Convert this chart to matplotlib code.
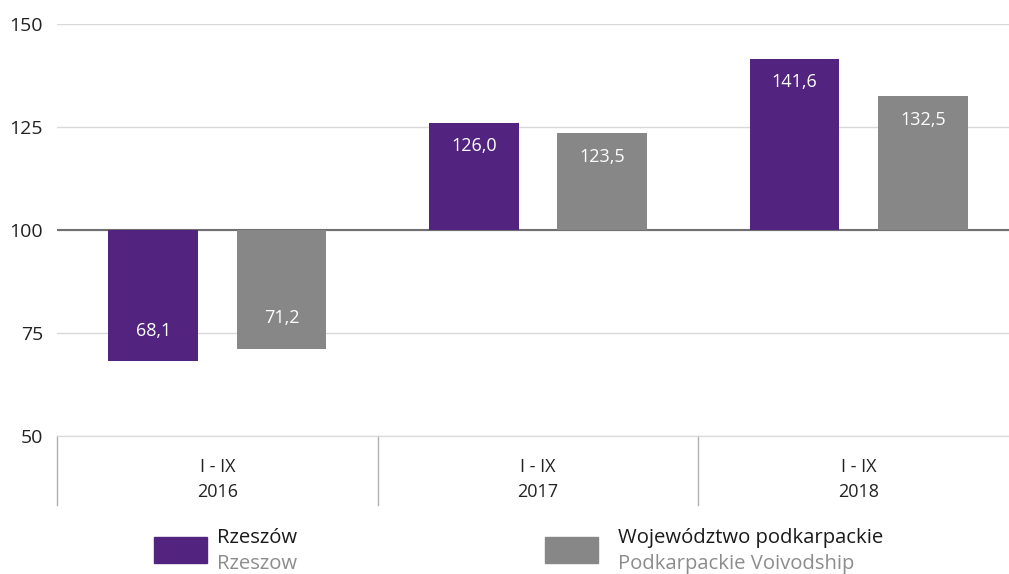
import matplotlib
matplotlib.use("Agg")
import matplotlib.pyplot as plt
from matplotlib.patches import Rectangle
import numpy as np

plt.rcParams['font.family'] = ['Open Sans', 'DejaVu Sans']

# data
periods = ['I - IX\n2016', 'I - IX\n2017', 'I - IX\n2018']
rzeszow = [68.1, 126.0, 141.6]
podkarpackie = [71.2, 123.5, 132.5]
series_pl = ['Rzeszów', 'Województwo podkarpackie']
series_en = ['Rzeszow', 'Podkarpackie Voivodship']
base = 100

purple = '#52247f'
grey = '#878787'
W, H = 1009, 574

fig = plt.figure(figsize=(W / 100, H / 100), dpi=100)
# axes runs slightly past the right edge of the figure
left, right, top, bottom = 57, 1019, 24, 436
ax = fig.add_axes([left / W, 1 - bottom / H, (right - left) / W, (bottom - top) / H])

x = np.arange(len(periods))
bw = 0.28
off = 0.2
for vals, col, sign in [(rzeszow, purple, -1), (podkarpackie, grey, 1)]:
    heights = [v - base for v in vals]
    ax.bar(x + sign * off, heights, bw, bottom=base, color=col, zorder=3)
    for xi, v in zip(x + sign * off, vals):
        dy = -17 if v >= base else 22
        ax.annotate(f'{v:.1f}'.replace('.', ','), (xi, v), xytext=(0, dy),
                    textcoords='offset points', ha='center', va='center',
                    color='white', fontsize=13, zorder=4)

ax.set_xlim(-0.5, len(periods) - 0.5)
ax.set_ylim(50, 150)
ax.set_yticks([50, 75, 100, 125, 150])
ax.yaxis.grid(True, color='#d9d9d9', linewidth=1)
ax.set_axisbelow(True)
ax.axhline(base, color='#707070', linewidth=1.5, zorder=2)
for s in ['top', 'right', 'left']:
    ax.spines[s].set_visible(False)
ax.spines['bottom'].set_color('#d9d9d9')
ax.tick_params(axis='y', length=0, labelsize=14, pad=10, labelcolor='#222222')
ax.tick_params(axis='x', length=0, labelcolor='#222222')
ax.set_xticks(x)
ax.set_xticklabels(periods, fontsize=13, linespacing=1.5)
ax.tick_params(axis='x', pad=16)

# group separators under the axis
for xs in np.arange(len(periods)) - 0.5:
    ax.plot([xs, xs], [50, 33.2], color='#b0b0b0', linewidth=1,
            clip_on=False, transform=ax.transData)

# legend drawn below the axis
for i, (col, pl, en) in enumerate(zip([purple, grey], series_pl, series_en)):
    x0 = [154, 545][i]
    fig.patches.append(Rectangle((x0 / W, 1 - 563 / H), 53 / W, 26 / H,
                                 transform=fig.transFigure, color=col))
    tx = x0 + 63 if i == 0 else x0 + 73
    fig.text(tx / W, 1 - 538 / H, pl, fontsize=14.6, color='#1a1a1a', va='center')
    fig.text(tx / W, 1 - 564 / H, en, fontsize=14.6, color='#8c8c8c', va='center')

fig.savefig('out.png', dpi=100)
